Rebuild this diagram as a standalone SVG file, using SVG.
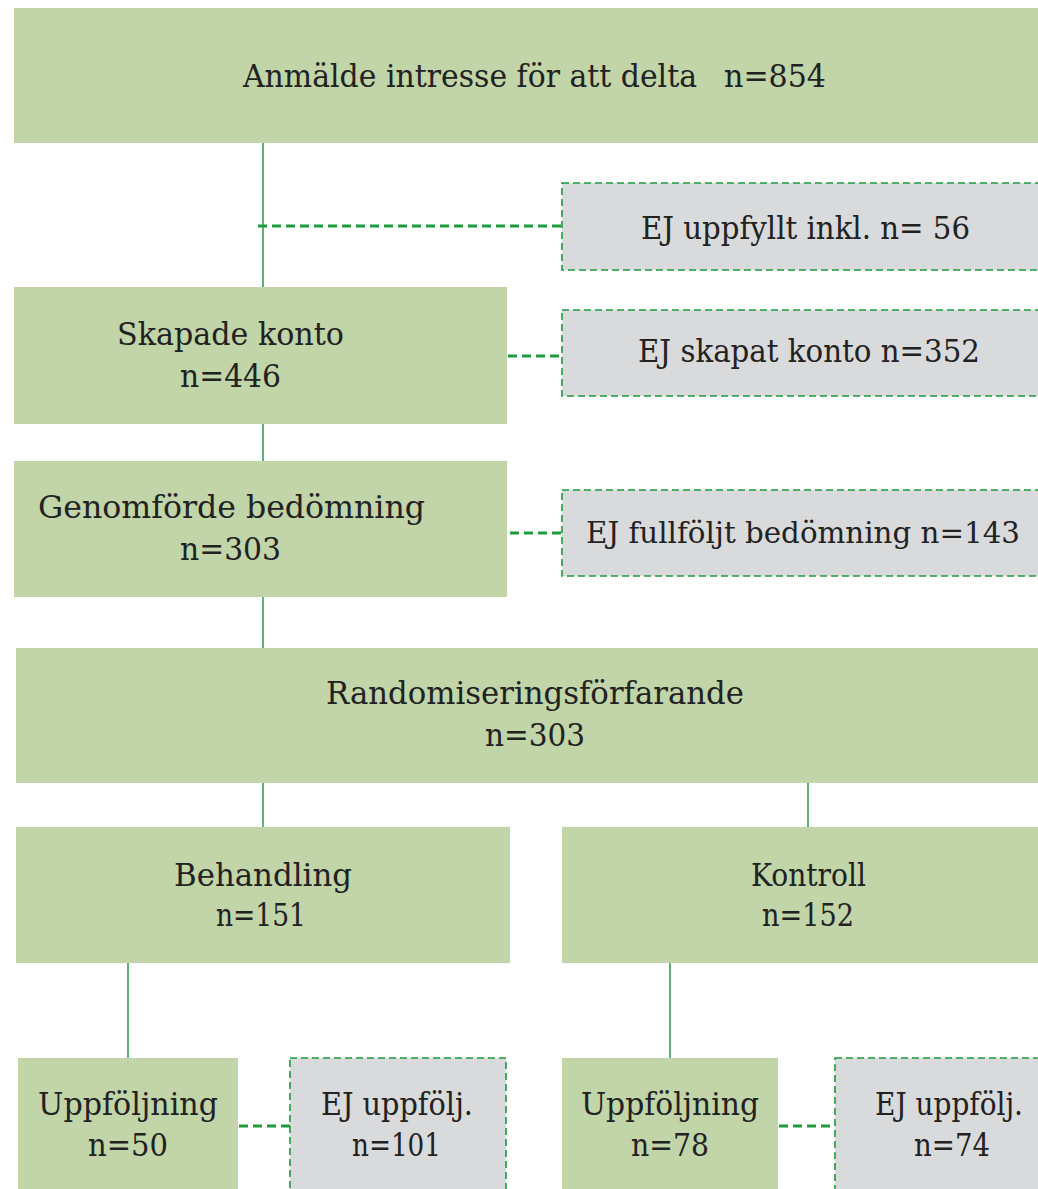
<svg xmlns="http://www.w3.org/2000/svg" width="1038" height="1189" viewBox="0 0 1038 1189">
<style>
.g{fill:#c1d5a8}
.x{fill:#d9dadc;stroke:#1f9a3c;stroke-width:1.6;stroke-dasharray:7 4}
.s{stroke:#3d9c55;stroke-width:1.6;fill:none}
.d{stroke:#1f9a3c;stroke-width:3;fill:none;stroke-dasharray:9 5}
text{font-family:"DejaVu Serif Condensed","DejaVu Serif","Liberation Serif",serif;font-size:31px;fill:#222;}
.sm{font-size:29px}
</style>
<rect width="1038" height="1189" fill="#fff"/>
<g id="connectors">
<line class="s" x1="263" y1="143" x2="263" y2="287"/>
<line class="d" x1="258" y1="226" x2="562" y2="226"/>
<line class="d" x1="508" y1="356" x2="562" y2="356"/>
<line class="s" x1="263" y1="424" x2="263" y2="461"/>
<line class="d" x1="510" y1="533" x2="562" y2="533"/>
<line class="s" x1="263" y1="597" x2="263" y2="648"/>
<line class="s" x1="263" y1="783" x2="263" y2="827"/>
<line class="s" x1="808" y1="783" x2="808" y2="827"/>
<line class="s" x1="128" y1="963" x2="128" y2="1058"/>
<line class="s" x1="670" y1="963" x2="670" y2="1058"/>
<line class="d" x1="239" y1="1126" x2="290" y2="1126"/>
<line class="d" x1="779" y1="1126" x2="835" y2="1126"/>
</g>
<g id="n1"><rect class="g" x="14" y="8" width="1024" height="135"/>
<text x="243" y="87" textLength="454" lengthAdjust="spacingAndGlyphs">Anmälde intresse för att delta</text>
<text x="724" y="87" textLength="102" lengthAdjust="spacingAndGlyphs">n=854</text></g>
<g id="x1"><rect class="x" x="562" y="183" width="480" height="87"/>
<text x="641" y="239" textLength="329" lengthAdjust="spacingAndGlyphs">EJ uppfyllt inkl. n= 56</text></g>
<g id="n2"><rect class="g" x="14" y="287" width="493" height="137"/>
<text x="117" y="345" textLength="227" lengthAdjust="spacingAndGlyphs">Skapade konto</text>
<text x="180" y="387" textLength="101" lengthAdjust="spacingAndGlyphs">n=446</text></g>
<g id="x2"><rect class="x" x="562" y="310" width="480" height="86"/>
<text x="638" y="362" textLength="342" lengthAdjust="spacingAndGlyphs">EJ skapat konto n=352</text></g>
<g id="n3"><rect class="g" x="14" y="461" width="493" height="136"/>
<text x="38" y="518" textLength="387" lengthAdjust="spacingAndGlyphs">Genomförde bedömning</text>
<text x="180" y="560" textLength="101" lengthAdjust="spacingAndGlyphs">n=303</text></g>
<g id="x3"><rect class="x" x="562" y="490" width="480" height="86"/>
<text class="sm" x="586" y="543" textLength="434" lengthAdjust="spacingAndGlyphs">EJ fullföljt bedömning n=143</text></g>
<g id="n4"><rect class="g" x="16" y="648" width="1022" height="135"/>
<text x="326" y="704" textLength="418" lengthAdjust="spacingAndGlyphs">Randomiseringsförfarande</text>
<text x="485" y="746" textLength="100" lengthAdjust="spacingAndGlyphs">n=303</text></g>
<g id="n5"><rect class="g" x="16" y="827" width="494" height="136"/>
<text x="174" y="886" textLength="178" lengthAdjust="spacingAndGlyphs">Behandling</text>
<text x="216" y="926" textLength="90" lengthAdjust="spacingAndGlyphs">n=151</text></g>
<g id="n6"><rect class="g" x="562" y="827" width="476" height="136"/>
<text x="751" y="886" textLength="115" lengthAdjust="spacingAndGlyphs">Kontroll</text>
<text x="762" y="926" textLength="92" lengthAdjust="spacingAndGlyphs">n=152</text></g>
<g id="n7"><rect class="g" x="18" y="1058" width="220" height="131"/>
<text x="38" y="1115" textLength="180" lengthAdjust="spacingAndGlyphs">Uppföljning</text>
<text x="88" y="1156" textLength="80" lengthAdjust="spacingAndGlyphs">n=50</text></g>
<g id="x7"><rect class="x" x="290" y="1058" width="216" height="135"/>
<text x="321" y="1115" textLength="152" lengthAdjust="spacingAndGlyphs">EJ uppfölj.</text>
<text x="352" y="1156" textLength="89" lengthAdjust="spacingAndGlyphs">n=101</text></g>
<g id="n8"><rect class="g" x="562" y="1058" width="216" height="131"/>
<text x="581" y="1115" textLength="178" lengthAdjust="spacingAndGlyphs">Uppföljning</text>
<text x="631" y="1156" textLength="78" lengthAdjust="spacingAndGlyphs">n=78</text></g>
<g id="x8"><rect class="x" x="835" y="1058" width="207" height="135"/>
<text x="875" y="1115" textLength="148" lengthAdjust="spacingAndGlyphs">EJ uppfölj.</text>
<text x="914" y="1156" textLength="76" lengthAdjust="spacingAndGlyphs">n=74</text></g>
</svg>
